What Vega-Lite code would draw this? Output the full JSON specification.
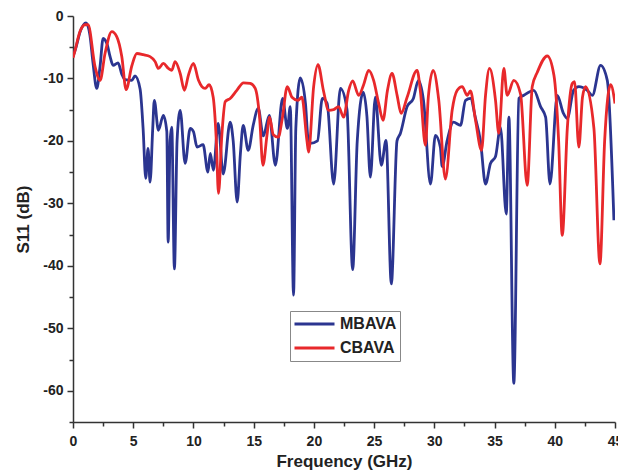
{
  "$schema": "https://vega.github.io/schema/vega-lite/v6.json",
  "width": 542,
  "height": 406,
  "autosize": {"type": "none"},
  "padding": {"left": 73, "top": 16, "right": 3, "bottom": 49},
  "background": "#ffffff",
  "config": {
    "view": {"stroke": null},
    "font": "Liberation Sans",
    "axis": {"labelFont": "Liberation Sans", "titleFont": "Liberation Sans", "labelFontWeight": "bold", "titleFontWeight": "bold", "labelColor": "#222", "titleColor": "#222", "domainColor": "#333", "tickColor": "#333", "domainWidth": 1.5, "tickWidth": 1.5, "grid": false}
  },
  "datasets": {
    "curves": [
      {"f":0,"s":-6.5,"ant":"MBAVA"},{"f":0.25,"s":-5,"ant":"MBAVA"},{"f":0.6,"s":-2.5,"ant":"MBAVA"},{"f":1.08,"s":-1.1,"ant":"MBAVA"},{"f":1.4,"s":-3,"ant":"MBAVA"},{"f":1.66,"s":-7.5,"ant":"MBAVA"},{"f":1.97,"s":-11.6,"ant":"MBAVA"},{"f":2.25,"s":-8,"ant":"MBAVA"},{"f":2.5,"s":-3.6,"ant":"MBAVA"},{"f":2.83,"s":-4.5,"ant":"MBAVA"},{"f":3.08,"s":-6.5,"ant":"MBAVA"},{"f":3.33,"s":-7.9,"ant":"MBAVA"},{"f":3.74,"s":-7.5,"ant":"MBAVA"},{"f":4.05,"s":-9.3,"ant":"MBAVA"},{"f":4.32,"s":-10.2,"ant":"MBAVA"},{"f":4.88,"s":-10.3,"ant":"MBAVA"},{"f":5.15,"s":-9.6,"ant":"MBAVA"},{"f":5.57,"s":-11.7,"ant":"MBAVA"},{"f":5.82,"s":-18,"ant":"MBAVA"},{"f":6.04,"s":-26,"ant":"MBAVA"},{"f":6.23,"s":-21.2,"ant":"MBAVA"},{"f":6.4,"s":-26.6,"ant":"MBAVA"},{"f":6.62,"s":-18,"ant":"MBAVA"},{"f":6.75,"s":-13.5,"ant":"MBAVA"},{"f":7.09,"s":-18.3,"ant":"MBAVA"},{"f":7.5,"s":-15.9,"ant":"MBAVA"},{"f":7.79,"s":-18.5,"ant":"MBAVA"},{"f":7.9,"s":-36.2,"ant":"MBAVA"},{"f":8.06,"s":-20,"ant":"MBAVA"},{"f":8.2,"s":-17.8,"ant":"MBAVA"},{"f":8.42,"s":-40.5,"ant":"MBAVA"},{"f":8.64,"s":-20,"ant":"MBAVA"},{"f":8.9,"s":-15.1,"ant":"MBAVA"},{"f":9.31,"s":-23.6,"ant":"MBAVA"},{"f":9.73,"s":-18,"ant":"MBAVA"},{"f":10.0,"s":-18.5,"ant":"MBAVA"},{"f":10.3,"s":-21,"ant":"MBAVA"},{"f":10.8,"s":-20.6,"ant":"MBAVA"},{"f":11.2,"s":-25,"ant":"MBAVA"},{"f":11.4,"s":-22,"ant":"MBAVA"},{"f":11.66,"s":-24.7,"ant":"MBAVA"},{"f":12.05,"s":-17.2,"ant":"MBAVA"},{"f":12.47,"s":-25.3,"ant":"MBAVA"},{"f":13.05,"s":-17,"ant":"MBAVA"},{"f":13.3,"s":-20,"ant":"MBAVA"},{"f":13.63,"s":-29.8,"ant":"MBAVA"},{"f":13.9,"s":-22,"ant":"MBAVA"},{"f":14.13,"s":-17.5,"ant":"MBAVA"},{"f":14.55,"s":-21.5,"ant":"MBAVA"},{"f":14.96,"s":-17.5,"ant":"MBAVA"},{"f":15.38,"s":-14.8,"ant":"MBAVA"},{"f":15.8,"s":-19.2,"ant":"MBAVA"},{"f":16.3,"s":-15.9,"ant":"MBAVA"},{"f":16.8,"s":-23.9,"ant":"MBAVA"},{"f":17.4,"s":-13.2,"ant":"MBAVA"},{"f":17.8,"s":-18,"ant":"MBAVA"},{"f":18.04,"s":-14.5,"ant":"MBAVA"},{"f":18.31,"s":-44.7,"ant":"MBAVA"},{"f":18.5,"s":-18,"ant":"MBAVA"},{"f":18.87,"s":-9.9,"ant":"MBAVA"},{"f":19.3,"s":-14,"ant":"MBAVA"},{"f":19.53,"s":-19.9,"ant":"MBAVA"},{"f":19.7,"s":-20.4,"ant":"MBAVA"},{"f":20.3,"s":-20,"ant":"MBAVA"},{"f":20.7,"s":-13.2,"ant":"MBAVA"},{"f":21.1,"s":-14,"ant":"MBAVA"},{"f":21.64,"s":-26.9,"ant":"MBAVA"},{"f":22.2,"s":-11.6,"ant":"MBAVA"},{"f":22.75,"s":-15,"ant":"MBAVA"},{"f":23.22,"s":-40.6,"ant":"MBAVA"},{"f":23.6,"s":-20,"ant":"MBAVA"},{"f":24.1,"s":-12.2,"ant":"MBAVA"},{"f":24.4,"s":-16,"ant":"MBAVA"},{"f":24.69,"s":-25.8,"ant":"MBAVA"},{"f":25.1,"s":-13,"ant":"MBAVA"},{"f":25.6,"s":-23.9,"ant":"MBAVA"},{"f":25.99,"s":-19.9,"ant":"MBAVA"},{"f":26.43,"s":-42.9,"ant":"MBAVA"},{"f":26.9,"s":-20,"ant":"MBAVA"},{"f":27.18,"s":-18.8,"ant":"MBAVA"},{"f":27.74,"s":-14.5,"ant":"MBAVA"},{"f":28.26,"s":-13.2,"ant":"MBAVA"},{"f":28.68,"s":-10.3,"ant":"MBAVA"},{"f":29.1,"s":-13.5,"ant":"MBAVA"},{"f":29.68,"s":-26.9,"ant":"MBAVA"},{"f":30.09,"s":-19.1,"ant":"MBAVA"},{"f":30.5,"s":-21,"ant":"MBAVA"},{"f":30.65,"s":-24.1,"ant":"MBAVA"},{"f":31.06,"s":-20,"ant":"MBAVA"},{"f":31.59,"s":-17,"ant":"MBAVA"},{"f":32.17,"s":-17.5,"ant":"MBAVA"},{"f":32.59,"s":-13.5,"ant":"MBAVA"},{"f":33.0,"s":-13.2,"ant":"MBAVA"},{"f":33.42,"s":-16.4,"ant":"MBAVA"},{"f":33.83,"s":-20,"ant":"MBAVA"},{"f":34.25,"s":-26.9,"ant":"MBAVA"},{"f":34.66,"s":-23.6,"ant":"MBAVA"},{"f":35.08,"s":-22.5,"ant":"MBAVA"},{"f":35.49,"s":-17.8,"ant":"MBAVA"},{"f":35.97,"s":-31.7,"ant":"MBAVA"},{"f":36.19,"s":-16.2,"ant":"MBAVA"},{"f":36.6,"s":-58.8,"ant":"MBAVA"},{"f":37.02,"s":-13.2,"ant":"MBAVA"},{"f":37.43,"s":-12.7,"ant":"MBAVA"},{"f":38.26,"s":-11.9,"ant":"MBAVA"},{"f":38.82,"s":-14.5,"ant":"MBAVA"},{"f":39.24,"s":-16.2,"ant":"MBAVA"},{"f":39.6,"s":-26.9,"ant":"MBAVA"},{"f":40.21,"s":-12.7,"ant":"MBAVA"},{"f":40.7,"s":-15.5,"ant":"MBAVA"},{"f":41.04,"s":-16.4,"ant":"MBAVA"},{"f":41.56,"s":-11.9,"ant":"MBAVA"},{"f":42.0,"s":-11.3,"ant":"MBAVA"},{"f":42.7,"s":-11.9,"ant":"MBAVA"},{"f":43.12,"s":-12.7,"ant":"MBAVA"},{"f":43.8,"s":-7.9,"ant":"MBAVA"},{"f":44.36,"s":-10.3,"ant":"MBAVA"},{"f":44.91,"s":-32.7,"ant":"MBAVA"},
      {"f":0,"s":-6.7,"ant":"CBAVA"},{"f":0.17,"s":-5.5,"ant":"CBAVA"},{"f":0.58,"s":-2.5,"ant":"CBAVA"},{"f":1.0,"s":-1.4,"ant":"CBAVA"},{"f":1.25,"s":-1.4,"ant":"CBAVA"},{"f":1.83,"s":-8.1,"ant":"CBAVA"},{"f":2.25,"s":-10.3,"ant":"CBAVA"},{"f":2.66,"s":-6,"ant":"CBAVA"},{"f":3.22,"s":-2.5,"ant":"CBAVA"},{"f":3.63,"s":-3.3,"ant":"CBAVA"},{"f":4.05,"s":-6.5,"ant":"CBAVA"},{"f":4.41,"s":-11.8,"ant":"CBAVA"},{"f":4.88,"s":-8,"ant":"CBAVA"},{"f":5.3,"s":-6,"ant":"CBAVA"},{"f":5.84,"s":-6.2,"ant":"CBAVA"},{"f":6.4,"s":-6.5,"ant":"CBAVA"},{"f":6.82,"s":-7.3,"ant":"CBAVA"},{"f":7.09,"s":-8.4,"ant":"CBAVA"},{"f":7.5,"s":-7.6,"ant":"CBAVA"},{"f":7.92,"s":-8.4,"ant":"CBAVA"},{"f":8.2,"s":-8.7,"ant":"CBAVA"},{"f":8.48,"s":-7.3,"ant":"CBAVA"},{"f":8.9,"s":-9.2,"ant":"CBAVA"},{"f":9.25,"s":-11.9,"ant":"CBAVA"},{"f":9.58,"s":-9.5,"ant":"CBAVA"},{"f":10.0,"s":-7.6,"ant":"CBAVA"},{"f":10.42,"s":-10.3,"ant":"CBAVA"},{"f":10.7,"s":-11.3,"ant":"CBAVA"},{"f":10.97,"s":-11.6,"ant":"CBAVA"},{"f":11.3,"s":-11,"ant":"CBAVA"},{"f":11.64,"s":-13,"ant":"CBAVA"},{"f":11.9,"s":-20,"ant":"CBAVA"},{"f":12.08,"s":-28.4,"ant":"CBAVA"},{"f":12.36,"s":-19,"ant":"CBAVA"},{"f":12.64,"s":-13.7,"ant":"CBAVA"},{"f":13.05,"s":-13.2,"ant":"CBAVA"},{"f":13.6,"s":-11.9,"ant":"CBAVA"},{"f":14.16,"s":-10.7,"ant":"CBAVA"},{"f":14.71,"s":-10.8,"ant":"CBAVA"},{"f":15.13,"s":-11.6,"ant":"CBAVA"},{"f":15.49,"s":-16.2,"ant":"CBAVA"},{"f":15.77,"s":-23.9,"ant":"CBAVA"},{"f":16.1,"s":-19.2,"ant":"CBAVA"},{"f":16.32,"s":-16.2,"ant":"CBAVA"},{"f":16.63,"s":-19,"ant":"CBAVA"},{"f":17.04,"s":-19.4,"ant":"CBAVA"},{"f":17.37,"s":-16.5,"ant":"CBAVA"},{"f":17.79,"s":-11.3,"ant":"CBAVA"},{"f":18.18,"s":-13,"ant":"CBAVA"},{"f":18.68,"s":-13.5,"ant":"CBAVA"},{"f":19.0,"s":-13,"ant":"CBAVA"},{"f":19.42,"s":-19.9,"ant":"CBAVA"},{"f":19.56,"s":-21.8,"ant":"CBAVA"},{"f":19.98,"s":-11.3,"ant":"CBAVA"},{"f":20.34,"s":-7.8,"ant":"CBAVA"},{"f":20.8,"s":-12,"ant":"CBAVA"},{"f":21.22,"s":-15.1,"ant":"CBAVA"},{"f":21.64,"s":-15,"ant":"CBAVA"},{"f":22.05,"s":-14.5,"ant":"CBAVA"},{"f":22.47,"s":-16.2,"ant":"CBAVA"},{"f":22.88,"s":-12,"ant":"CBAVA"},{"f":23.22,"s":-10.4,"ant":"CBAVA"},{"f":23.72,"s":-12.7,"ant":"CBAVA"},{"f":24.13,"s":-11,"ant":"CBAVA"},{"f":24.55,"s":-8.7,"ant":"CBAVA"},{"f":24.96,"s":-10.3,"ant":"CBAVA"},{"f":25.38,"s":-14,"ant":"CBAVA"},{"f":25.74,"s":-16.7,"ant":"CBAVA"},{"f":26.1,"s":-12,"ant":"CBAVA"},{"f":26.49,"s":-9.2,"ant":"CBAVA"},{"f":26.91,"s":-12.7,"ant":"CBAVA"},{"f":27.24,"s":-15.6,"ant":"CBAVA"},{"f":27.74,"s":-13,"ant":"CBAVA"},{"f":28.57,"s":-8.7,"ant":"CBAVA"},{"f":28.84,"s":-12,"ant":"CBAVA"},{"f":29.26,"s":-20.7,"ant":"CBAVA"},{"f":29.5,"s":-13,"ant":"CBAVA"},{"f":29.9,"s":-8.7,"ant":"CBAVA"},{"f":30.37,"s":-13.5,"ant":"CBAVA"},{"f":30.92,"s":-26.1,"ant":"CBAVA"},{"f":31.48,"s":-15.1,"ant":"CBAVA"},{"f":31.9,"s":-11.9,"ant":"CBAVA"},{"f":32.31,"s":-11.3,"ant":"CBAVA"},{"f":32.73,"s":-12.7,"ant":"CBAVA"},{"f":33.0,"s":-12,"ant":"CBAVA"},{"f":33.42,"s":-16.7,"ant":"CBAVA"},{"f":33.92,"s":-21.5,"ant":"CBAVA"},{"f":34.25,"s":-12.7,"ant":"CBAVA"},{"f":34.58,"s":-8.4,"ant":"CBAVA"},{"f":35.08,"s":-13.5,"ant":"CBAVA"},{"f":35.35,"s":-18.8,"ant":"CBAVA"},{"f":35.77,"s":-8.4,"ant":"CBAVA"},{"f":36.05,"s":-12.7,"ant":"CBAVA"},{"f":36.6,"s":-10.3,"ant":"CBAVA"},{"f":37.16,"s":-12.5,"ant":"CBAVA"},{"f":37.71,"s":-27.1,"ant":"CBAVA"},{"f":38.13,"s":-11.3,"ant":"CBAVA"},{"f":38.55,"s":-9,"ant":"CBAVA"},{"f":39.38,"s":-6.4,"ant":"CBAVA"},{"f":39.93,"s":-9.5,"ant":"CBAVA"},{"f":40.32,"s":-20,"ant":"CBAVA"},{"f":40.62,"s":-35.1,"ant":"CBAVA"},{"f":41.04,"s":-18,"ant":"CBAVA"},{"f":41.45,"s":-10.8,"ant":"CBAVA"},{"f":41.64,"s":-10.5,"ant":"CBAVA"},{"f":42.0,"s":-21,"ant":"CBAVA"},{"f":42.3,"s":-13,"ant":"CBAVA"},{"f":42.56,"s":-11.3,"ant":"CBAVA"},{"f":43.25,"s":-18,"ant":"CBAVA"},{"f":43.75,"s":-39.7,"ant":"CBAVA"},{"f":44.14,"s":-20,"ant":"CBAVA"},{"f":44.64,"s":-11,"ant":"CBAVA"},{"f":45.0,"s":-14,"ant":"CBAVA"}
    ]
  },
  "data": {"name": "curves"},
  "mark": {"type": "line", "strokeWidth": 2.8, "interpolate": "monotone", "clip": true},
  "encoding": {
    "x": {
      "field": "f", "type": "quantitative",
      "scale": {"domain": [0, 45], "nice": false, "zero": false},
      "axis": {
        "title": "Frequency (GHz)", "titleFontSize": 17, "titlePadding": 5,
        "labelFontSize": 14, "labelPadding": 6,
        "values": [0,2.5,5,7.5,10,12.5,15,17.5,20,22.5,25,27.5,30,32.5,35,37.5,40,42.5,45],
        "labelExpr": "datum.value % 5 === 0 ? toString(datum.value) : ''",
        "tickSize": {"condition": {"test": "datum.value % 5 === 0", "value": 6}, "value": 4},
        "labelFlush": false, "labelOverlap": false
      }
    },
    "y": {
      "field": "s", "type": "quantitative",
      "scale": {"domain": [-65, 0], "nice": false, "zero": false},
      "axis": {
        "title": "S11 (dB)", "titleFontSize": 17, "titlePadding": 10,
        "labelFontSize": 14, "labelPadding": 4,
        "values": [-65,-60,-55,-50,-45,-40,-35,-30,-25,-20,-15,-10,-5,0],
        "labelExpr": "datum.value % 10 === 0 ? toString(datum.value) : ''",
        "tickSize": {"condition": {"test": "datum.value % 10 === 0", "value": 6}, "value": 4},
        "labelFlush": false, "labelOverlap": false
      }
    },
    "color": {
      "field": "ant", "type": "nominal",
      "scale": {"domain": ["MBAVA", "CBAVA"], "range": ["#2b3590", "#e8282b"]},
      "legend": {
        "title": null, "orient": "none", "legendX": 217, "legendY": 295,
        "strokeColor": "#888", "padding": 3, "symbolType": "stroke",
        "symbolSize": 1600, "symbolStrokeWidth": 3, "labelFontSize": 16,
        "labelFontWeight": "bold", "labelFont": "Liberation Sans", "labelColor": "#222",
        "clipHeight": 20, "rowPadding": 4, "labelOffset": 4, "fillColor": "#ffffff"
      }
    }
  }
}
